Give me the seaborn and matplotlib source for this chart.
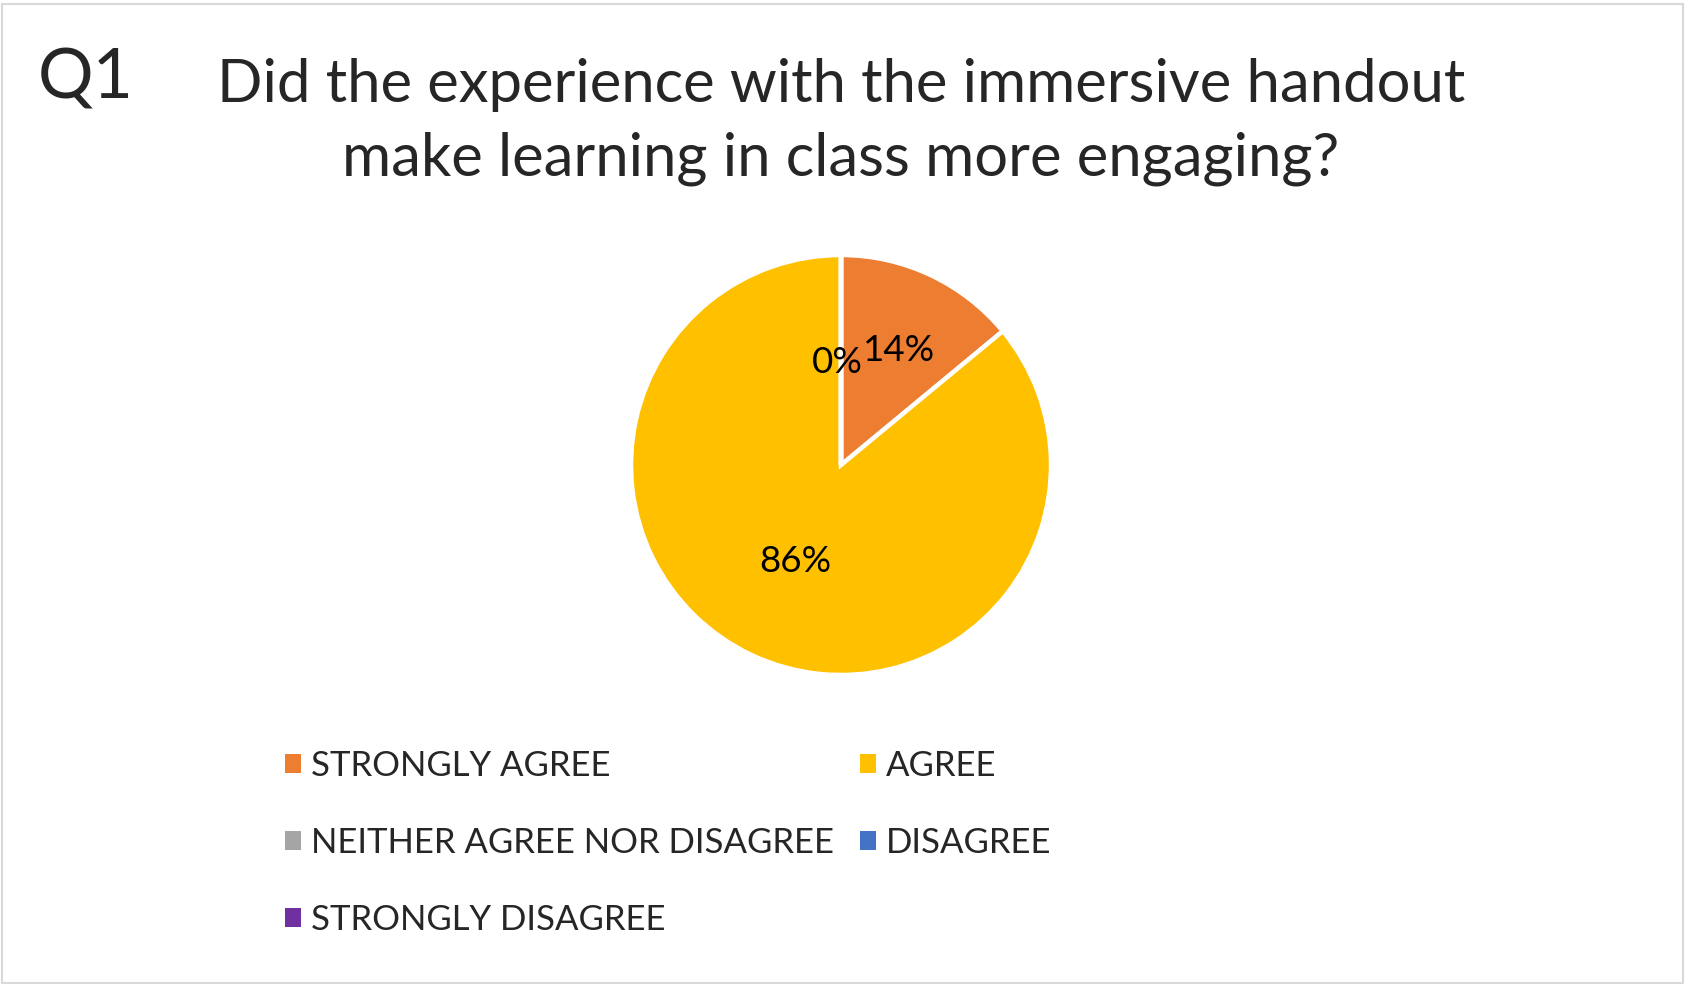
import numpy as np
import matplotlib.pyplot as plt
import matplotlib.patches as mpatches
import matplotlib.transforms as mtransforms
import seaborn as sns

# =========================
# Data
# =========================
question = "Q1"
title = "Did the experience with the immersive handout\nmake learning in class more engaging?"
categories = [
    "STRONGLY AGREE",
    "AGREE",
    "NEITHER AGREE NOR DISAGREE",
    "DISAGREE",
    "STRONGLY DISAGREE",
]
shares = [14, 86, 0, 0, 0]
colors = ["#ED7D31", "#FFC000", "#A5A5A5", "#4472C4", "#7030A0"]

# =========================
# Style
# =========================
sns.set_theme(style="white")
plt.rcParams["font.family"] = ["Lato", "DejaVu Sans"]

W, H = 1686, 985
fig = plt.figure(figsize=(W / 100, H / 100), dpi=100)
fig.patch.set_facecolor("white")

# light grey frame round the chart
fig.patches.append(mpatches.Rectangle(
    (2 / W, 2 / H), 1 - 5 / W, 1 - 6 / H,
    transform=fig.transFigure, fill=False,
    edgecolor="#D9D9D9", linewidth=1.5
))

# =========================
# Titles
# =========================
fig.text(38 / W, 1 - 79 / H, question, fontsize=50, ha="left", va="center")
fig.text(841 / W, 1 - 122 / H, title, fontsize=43, ha="center", va="center",
         linespacing=1.45)

# =========================
# Pie
# =========================
cx, cy, r = 841, 465, 210
ax = fig.add_axes([(cx - r) / W, 1 - (cy + r) / H, 2 * r / W, 2 * r / H])

wedges, _ = ax.pie(
    shares,
    colors=colors,
    startangle=90,
    counterclock=False,
    wedgeprops=dict(edgecolor="white", linewidth=3.2),
)
ax.set_xlim(-1, 1)
ax.set_ylim(-1, 1)
ax.set_aspect("equal")

# percentage labels (zero slices share one spot, so label it once)
label_dist = [0.6, 0.51, 0.49, 0.49, 0.49]
placed = {}
for w, val, d in zip(wedges, shares, label_dist):
    ang = np.deg2rad((w.theta1 + w.theta2) / 2)
    x, y = d * np.cos(ang), d * np.sin(ang)
    key = (round(x, 3), round(y, 3))
    if key in placed:
        continue
    placed[key] = ax.text(x, y, f"{val}%", ha="center", va="center",
                          fontsize=26.5, color="black")


def shift(txt, dx):
    txt.set_transform(txt.get_transform() + mtransforms.Affine2D().translate(dx, 0))


# push touching labels apart sideways, one pixel each per step
renderer = fig.canvas.get_renderer()
labels = list(placed.values())
for i, t in enumerate(labels):
    for other in labels[:i]:
        for _ in range(40):
            a = t.get_window_extent(renderer)
            b = other.get_window_extent(renderer)
            if not a.overlaps(b):
                break
            s = 1 if a.x0 >= b.x0 else -1
            shift(t, s)
            shift(other, -s)

# =========================
# Legend (row-wise, 2 columns)
# =========================
handles = [mpatches.Patch(facecolor=c, edgecolor="none") for c in colors]
order = [0, 2, 4, 1, 3]
fig.legend(
    [handles[i] for i in order],
    [categories[i] for i in order],
    ncol=2,
    loc="upper left",
    bbox_to_anchor=(285 / W, 1 - 750 / H),
    frameon=False,
    fontsize=25,
    handlelength=0.45,
    handleheight=0.45,
    handletextpad=0.3,
    columnspacing=0.75,
    labelspacing=1.29,
    borderpad=0,
    borderaxespad=0,
)

fig.savefig("out.png", dpi=100)
